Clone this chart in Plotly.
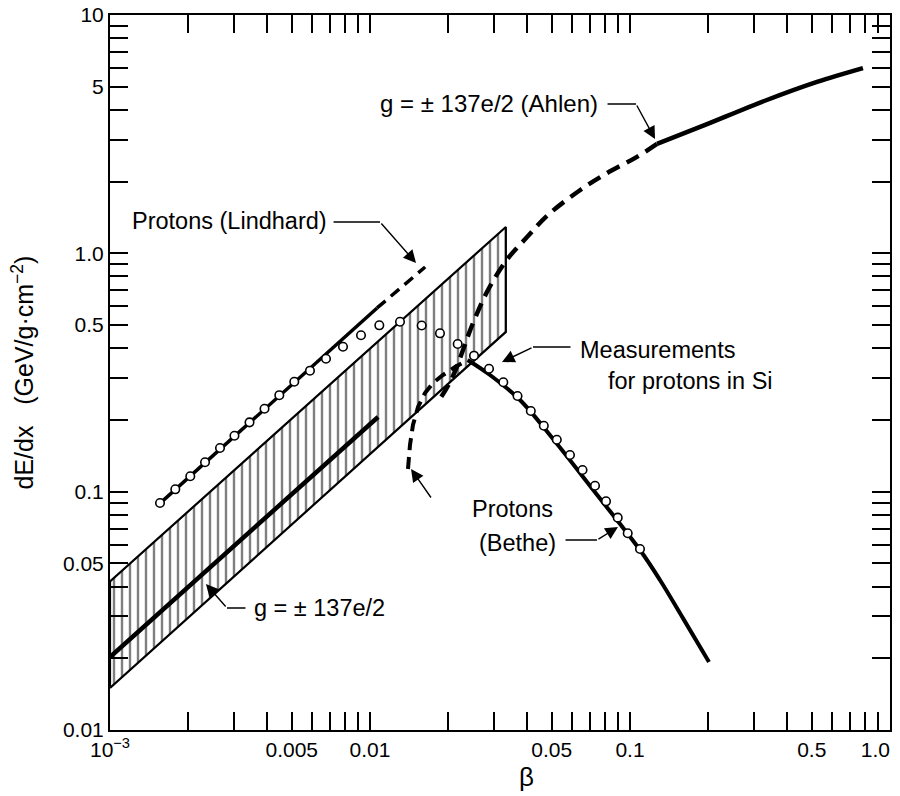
import math
import plotly.graph_objects as go

# ---------------- data ----------------
# hatched band for monopoles g = ±137e/2
BAND_BETA = [0.001, 0.0333]
BAND_LOWER = [0.0150, 0.468]
BAND_UPPER = [0.0420, 1.290]

# central monopole line inside band
MONO_BETA = [0.001, 0.01074]
MONO_DEDX = [0.02025, 0.2058]

# Protons (Lindhard): solid and dashed continuation
LIND_BETA = [0.00156, 0.01065]
LIND_DEDX = [0.0895, 0.590]
LIND_EXT_BETA = [0.01065, 0.0163]
LIND_EXT_DEDX = [0.590, 0.876]

# Protons (Bethe): dashed low-velocity part and solid part
BETHE_LOW_BETA = [0.0140, 0.01425, 0.01463, 0.0153, 0.01627, 0.01747, 0.01909, 0.02123, 0.02375]
BETHE_LOW_DEDX = [0.1245, 0.157, 0.1905, 0.2266, 0.2594, 0.2857, 0.3087, 0.3334, 0.3568]
BETHE_BETA = [0.02375, 0.02894, 0.03775, 0.0507, 0.07224, 0.10926, 0.1304, 0.160, 0.2013]
BETHE_DEDX = [0.3568, 0.3087, 0.2424, 0.1659, 0.1016, 0.0569, 0.0426, 0.0294, 0.0193]

# Ahlen g = ±137e/2 : dashed and solid
AHLEN_LOW_BETA = [0.0188, 0.0207, 0.0249, 0.0284, 0.0336, 0.0402, 0.0484, 0.0642, 0.0816, 0.1064, 0.127]
AHLEN_LOW_DEDX = [0.25, 0.30, 0.51, 0.70, 0.94, 1.17, 1.45, 1.84, 2.17, 2.54, 2.88]
AHLEN_BETA = [0.127, 0.186, 0.336, 0.524, 0.787]
AHLEN_DEDX = [2.88, 3.39, 4.40, 5.24, 5.99]

# Measurements for protons in Si
MEAS_BETA = [0.001557, 0.001783, 0.002036, 0.002320, 0.002649, 0.003011, 0.003440, 0.003929,
             0.004479, 0.005114, 0.005876, 0.006772, 0.007873, 0.009235, 0.010860, 0.013043,
             0.015806, 0.018585, 0.021740, 0.025119, 0.028694, 0.032564, 0.036929, 0.041544,
             0.046614, 0.052300, 0.058762, 0.065674, 0.073359, 0.080872, 0.089703, 0.097994, 0.10926]
MEAS_DEDX = [0.0896, 0.1023, 0.1160, 0.1328, 0.1525, 0.1717, 0.1954, 0.2227,
             0.2540, 0.2891, 0.3218, 0.3613, 0.4057, 0.4530, 0.4989, 0.5165,
             0.4979, 0.4618, 0.4164, 0.3720, 0.3280, 0.2879, 0.2520, 0.2180,
             0.1890, 0.1652, 0.1425, 0.1233, 0.1059, 0.0911, 0.0778, 0.0669, 0.0575]

# ticks
X_TICK_LABELS = {0.001: "10<sup>−3</sup>", 0.005: "0.005", 0.01: "0.01", 0.05: "0.05",
                 0.1: "0.1", 0.5: "0.5", 1.0: "1.0" + "\u00a0" * 5}
Y_TICK_LABELS = {0.01: "0.01", 0.05: "0.05", 0.1: "0.1", 0.5: "0.5", 1.0: "1.0", 5: "5", 10: "10"}


def ticks(decades, last, labels):
    vals, txt = [], []
    for d in decades:
        for k in range(1, 10):
            v = round(k * 10 ** d, 6)
            vals.append(v)
            txt.append(next((t for key, t in labels.items() if abs(key - v) < 1e-9), ""))
    vals.append(last)
    txt.append(labels.get(last, ""))
    return vals, txt


xt_v, xt_t = ticks([-3, -2, -1], 1.0, X_TICK_LABELS)
yt_v, yt_t = ticks([-2, -1, 0], 10, Y_TICK_LABELS)

FONT = "Liberation Sans, Arial, Helvetica, sans-serif"
BLACK = "black"

fig = go.Figure()

# band polygon
bx = [BAND_BETA[0], BAND_BETA[1], BAND_BETA[1], BAND_BETA[0], BAND_BETA[0]]
by = [BAND_LOWER[0], BAND_LOWER[1], BAND_UPPER[1], BAND_UPPER[0], BAND_LOWER[0]]
fig.add_trace(go.Scatter(x=bx, y=by, mode="lines", fill="toself", fillcolor="white",
                         fillpattern=dict(shape="|", size=8, solidity=0.3, fgcolor=BLACK,
                                          bgcolor="white"),
                         line=dict(color=BLACK, width=2.2), hoverinfo="skip"))
fig.add_trace(go.Scatter(x=MONO_BETA, y=MONO_DEDX, mode="lines",
                         line=dict(color=BLACK, width=4.5)))

fig.add_trace(go.Scatter(x=LIND_BETA, y=LIND_DEDX, mode="lines",
                         line=dict(color=BLACK, width=3.5)))
fig.add_trace(go.Scatter(x=LIND_EXT_BETA, y=LIND_EXT_DEDX, mode="lines",
                         line=dict(color=BLACK, width=3.5, dash="11px,7px")))

fig.add_trace(go.Scatter(x=BETHE_LOW_BETA, y=BETHE_LOW_DEDX, mode="lines",
                         line=dict(color=BLACK, width=4, dash="12px,7px")))
fig.add_trace(go.Scatter(x=BETHE_BETA, y=BETHE_DEDX, mode="lines",
                         line=dict(color=BLACK, width=4, shape="spline")))

fig.add_trace(go.Scatter(x=AHLEN_LOW_BETA, y=AHLEN_LOW_DEDX, mode="lines",
                         line=dict(color=BLACK, width=4.5, dash="14px,8px", shape="spline")))
fig.add_trace(go.Scatter(x=AHLEN_BETA, y=AHLEN_DEDX, mode="lines",
                         line=dict(color=BLACK, width=4.5, shape="spline")))

fig.add_trace(go.Scatter(x=MEAS_BETA, y=MEAS_DEDX, mode="markers",
                         marker=dict(symbol="circle", size=8.5, color="white",
                                     line=dict(color=BLACK, width=1.6))))

L = math.log10
ann = []


def text(x, y, s, xanchor, size=23.5):
    ann.append(dict(x=L(x), y=L(y), xref="x", yref="y", text=s, showarrow=False,
                    xanchor=xanchor, yanchor="middle",
                    font=dict(size=size, color=BLACK, family=FONT)))


def arrow(x, y, ax, ay, head=True):
    ann.append(dict(x=L(x), y=L(y), xref="x", yref="y", text="", showarrow=True,
                    ax=ax, ay=ay, arrowhead=2 if head else 0, arrowsize=1.8,
                    arrowwidth=1.4, arrowcolor=BLACK))


# Ahlen label
text(0.0767, 4.233, "g = ± 137e/2 (Ahlen)", "right", 24)
arrow(0.1248, 3.018, -19, -35)
arrow(0.1055, 4.233, -30, 0, head=False)

# Lindhard label
text(0.001194, 1.367, "Protons (Lindhard)", "left")
arrow(0.01503, 0.911, -36, -41)
arrow(0.01093, 1.353, -48, 0, head=False)

# Measurements label
text(0.0631, 0.3929, "Measurements", "left")
text(0.3611, 0.2912, "for protons in Si", "right")
arrow(0.03219, 0.3499, 31, -15)
arrow(0.04235, 0.4045, 39, 0, head=False)

# Protons (Bethe)
text(0.02424, 0.08457, "Protons", "left")
text(0.05284, 0.06088, "(Bethe)", "right")
arrow(0.01438, 0.1245, 21, 30)
arrow(0.08989, 0.07107, -21, 13)
arrow(0.07465, 0.06267, -33, 0, head=False)

# band label
text(0.003517, 0.0325, "g = ± 137e/2", "left")
arrow(0.002339, 0.04099, 21, 24)
arrow(0.002818, 0.0325, 20, 0, head=False)

# axis titles
ann.append(dict(x=-0.1128, y=0.5, xref="paper", yref="paper", showarrow=False,
                xanchor="center", yanchor="middle",
                text="dE/dx\u00a0\u00a0\u00a0(GeV/g·cm<sup>−2</sup>)", textangle=-90,
                font=dict(size=25, color=BLACK, family=FONT)))
ann.append(dict(x=0.5346, y=-0.066, xref="paper", yref="paper", showarrow=False,
                xanchor="center", yanchor="middle",
                text="β", font=dict(size=26, color=BLACK, family=FONT)))

axis_common = dict(showgrid=False, zeroline=False, showline=True, linecolor=BLACK, linewidth=2,
                   mirror="allticks", ticks="inside", ticklen=18, tickwidth=1.5, tickcolor=BLACK,
                   automargin=False, ticklabeloverflow="allow",
                   tickfont=dict(size=21, color=BLACK, family=FONT))

# the page body adds an 8px offset, so the figure is 8px smaller to keep the
# plot frame where it sits in the reference (x 110-890, y 15-730 on the page)
fig.update_layout(
    width=892, height=788,
    margin=dict(l=102, r=10, t=7, b=66),
    paper_bgcolor="white", plot_bgcolor="white",
    showlegend=False,
    xaxis=dict(type="log", range=[-3, 0], tickmode="array", tickvals=xt_v, ticktext=xt_t,
               **axis_common),
    yaxis=dict(type="log", range=[-2, 1], tickmode="array", tickvals=yt_v, ticktext=yt_t,
               **axis_common),
    annotations=ann,
    font=dict(family=FONT, color=BLACK),
)

fig.write_html("out.html")
